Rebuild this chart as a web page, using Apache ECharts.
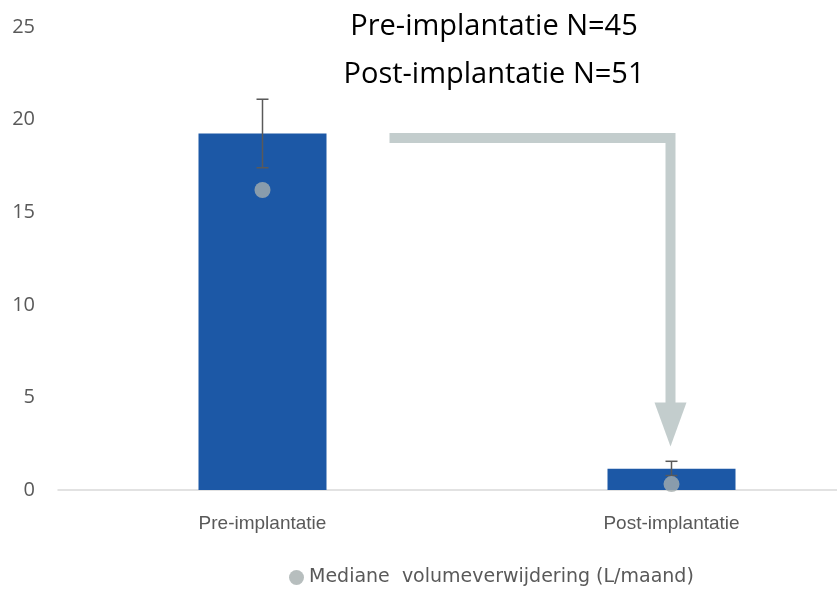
<!DOCTYPE html>
<html>
<head>
<meta charset="utf-8">
<script src="https://cdn.jsdelivr.net/npm/echarts@6/dist/echarts.min.js"></script>
<style>
  html, body { margin: 0; padding: 0; background: #fff; }
  #chart { width: 837px; height: 589px; }
</style>
</head>
<body>
<div id="chart"></div>
<script>
const categories = ['Pre-implantatie', 'Post-implantatie'];
const meanValues = [19.25, 1.15];
const errLow = [17.4, 0.78];
const errHigh = [21.1, 1.55];
const medianValues = [16.2, 0.32];
const titleLines = ['Pre-implantatie N=45', 'Post-implantatie N=51'];
const legendName = 'Mediane  volumeverwijdering (L/maand)';

const chart = echarts.init(document.getElementById('chart'));

const errorData = categories.map((c, i) => [i, errLow[i], errHigh[i]]);

const titleStyle = { fontFamily: 'Open Sans', fontWeight: 'normal', fontSize: 29, color: '#000' };

const option = {
  animation: false,
  textStyle: { fontFamily: 'Liberation Sans' },
  title: [
    { text: titleLines[0], left: 489, top: 7, textAlign: 'center', textStyle: titleStyle },
    { text: titleLines[1], left: 489, top: 55, textAlign: 'center', textStyle: titleStyle }
  ],
  legend: {
    data: [legendName],
    top: 568,
    left: 289,
    padding: 0,
    itemWidth: 15,
    itemHeight: 15,
    itemGap: 6,
    textStyle: { color: '#595959', fontSize: 19, fontFamily: 'DejaVu Sans' }
  },
  grid: { left: 58, top: 27, width: 818, height: 463, outerBoundsMode: 'none' },
  xAxis: {
    type: 'category',
    data: categories,
    axisLine: { lineStyle: { color: '#d9d9d9', width: 1.5 } },
    axisTick: { show: false },
    axisLabel: { color: '#595959', fontSize: 19, margin: 24 }
  },
  yAxis: {
    type: 'value',
    min: 0,
    max: 25,
    interval: 5,
    axisLine: { show: false },
    axisTick: { show: false },
    splitLine: { show: false },
    axisLabel: { color: '#595959', fontSize: 20, margin: 23, fontFamily: 'Open Sans' }
  },
  series: [
    {
      name: 'Gemiddelde',
      type: 'bar',
      data: meanValues,
      barWidth: 128,
      itemStyle: { color: '#1c58a6' },
      z: 1
    },
    {
      name: 'err',
      type: 'custom',
      data: errorData,
      z: 3,
      renderItem: function (params, api) {
        const x = api.value(0);
        const lo = api.coord([x, api.value(1)]);
        const hi = api.coord([x, api.value(2)]);
        const hw = 6;
        const style = { stroke: '#595959', lineWidth: 1.5 };
        return {
          type: 'group',
          children: [
            { type: 'line', shape: { x1: lo[0], y1: lo[1], x2: hi[0], y2: hi[1] }, style: style },
            { type: 'line', shape: { x1: lo[0] - hw, y1: lo[1], x2: lo[0] + hw, y2: lo[1] }, style: style },
            { type: 'line', shape: { x1: hi[0] - hw, y1: hi[1], x2: hi[0] + hw, y2: hi[1] }, style: style }
          ]
        };
      }
    },
    {
      name: legendName,
      type: 'scatter',
      data: medianValues,
      symbol: 'circle',
      symbolSize: 16,
      itemStyle: { color: '#a5aeae' },
      z: 4
    }
  ]
};

chart.setOption(option);

// arrow annotation, anchored to the bars
const p0 = chart.convertToPixel({ gridIndex: 0 }, [categories[0], 19]);
const p1 = chart.convertToPixel({ gridIndex: 0 }, [categories[1], 19]);
const tip = chart.convertToPixel({ gridIndex: 0 }, [categories[1], 2.35]);
const startX = p0[0] + 127;
const ax = p1[0] - 1;
const headH = 44;
const headHalf = 16;
chart.setOption({
  graphic: [
    {
      type: 'polyline',
      shape: { points: [[startX, p0[1]], [ax, p0[1]], [ax, tip[1] - headH + 1]] },
      style: { stroke: '#c3cdcd', lineWidth: 10, fill: null, lineJoin: 'miter' },
      z: 5
    },
    {
      type: 'polygon',
      shape: { points: [[ax - headHalf, tip[1] - headH], [ax + headHalf, tip[1] - headH], [ax, tip[1]]] },
      style: { fill: '#c3cdcd' },
      z: 5
    }
  ]
});
</script>
</body>
</html>
